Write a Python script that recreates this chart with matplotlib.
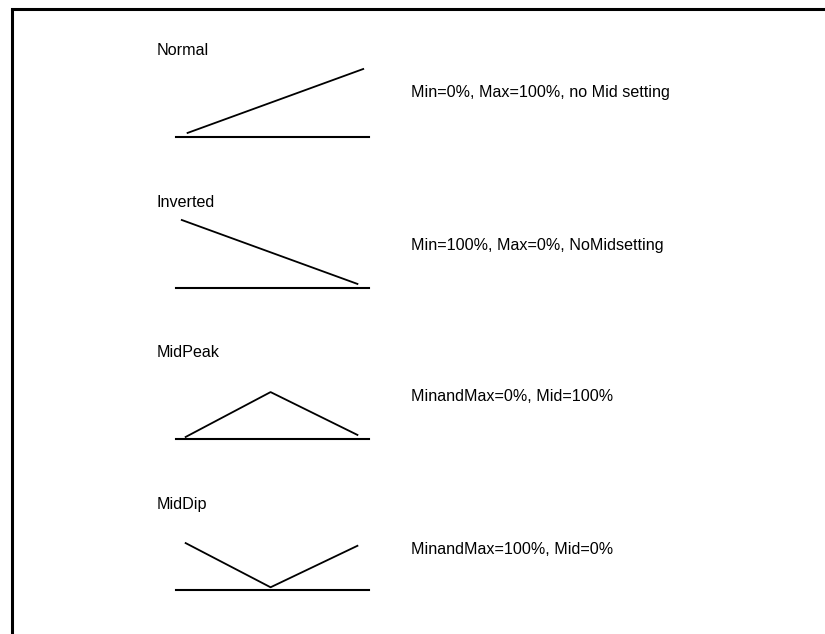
import matplotlib.pyplot as plt
from matplotlib.lines import Line2D

plt.rcParams["font.family"] = ["Liberation Sans", "DejaVu Sans"]

# %% data
labels = ["Normal", "Inverted", "MidPeak", "MidDip"]
descriptions = [
    "Min=0%, Max=100%, no Mid setting",
    "Min=100%, Max=0%, NoMidsetting",
    "MinandMax=0%, Mid=100%",
    "MinandMax=100%, Mid=0%",
]
# position along the ramp (0 = min end, 1 = max end)
ramp_x = [
    [0.06, 0.97],
    [0.03, 0.94],
    [0.05, 0.49, 0.94],
    [0.05, 0.49, 0.94],
]
# height of the ramp in percent of the panel
ramp_y = [
    [6, 100],
    [100, 6],
    [3, 69, 6],
    [69, 4, 65],
]

# %% layout (pixels)
W, H = 825, 634
baselines = [137, 288, 439, 590]
label_base = [55, 207, 357, 509]
desc_base = [97, 250, 401, 554]
x0, x1 = 176, 369
panel_h = 68

fig = plt.figure(figsize=(W / 100, H / 100), dpi=100)
fig.patch.set_facecolor("white")

# frame on top and left
fig.add_artist(Line2D([11.5 / W, 1], [1 - 8.5 / H, 1 - 8.5 / H], color="black", lw=2.2,
                      solid_capstyle="projecting", transform=fig.transFigure))
fig.add_artist(Line2D([11.5 / W, 11.5 / W], [1 - 8.5 / H, 0], color="black", lw=2.2,
                      solid_capstyle="butt", transform=fig.transFigure))

for i, name in enumerate(labels):
    ax = fig.add_axes([x0 / W, 1 - baselines[i] / H, (x1 - x0) / W, panel_h / H])
    ax.set_xlim(0, 1)
    ax.set_ylim(0, 100)
    ax.axis("off")
    ax.axhline(0, color="black", lw=1.5, clip_on=False)
    ax.plot(ramp_x[i], ramp_y[i], color="black", lw=1.3, clip_on=False)

    fig.text(157 / W, 1 - label_base[i] / H, name, fontsize=11.6,
             va="baseline", ha="left")
    fig.text(411 / W, 1 - desc_base[i] / H, descriptions[i], fontsize=11.6,
             va="baseline", ha="left")

fig.savefig("out.png", dpi=100, facecolor="white")
